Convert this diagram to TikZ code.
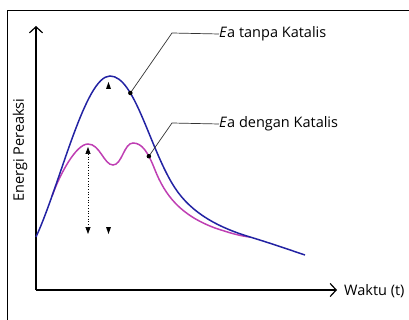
\documentclass[tikz,border=0pt]{standalone}
\usepackage{fontspec}
\setmainfont{Open Sans}
\usetikzlibrary{arrows.meta}
\definecolor{cblue}{HTML}{2323A3}
\definecolor{cpink}{HTML}{BF3FB3}
\tikzset{
  axis/.style={line width=1.3pt,-{Straight Barb[length=6pt,width=13pt,line width=1.2pt]}},
  curveblue/.style={cblue,line width=1.5pt},
  curvepink/.style={cpink,line width=1.5pt},
  leader/.style={line width=0.7pt,black!80},
  lbl/.style={font=\fontsize{14.5}{17}\selectfont,inner sep=0pt},
  dotm/.style={circle,fill=black,inner sep=0pt,minimum size=4.5pt},
  head/.style={fill=black}
}
\begin{document}
\begin{tikzpicture}[x=1pt,y=-1pt]
\useasboundingbox (0,0) rectangle (409,320);
% frame
\draw[line width=1.4pt] (7.5,330) -- (7.5,10.5) -- (420,10.5);
% axes
\coordinate (O) at (36,290);
\coordinate (Ytop) at (36,26);
\coordinate (Xend) at (337,290);
\draw[axis] (O) -- (Ytop);
\draw[axis] (O) -- (Xend);
\node[lbl,anchor=west] (xl) at (344,291) {Waktu (t)};
\node[lbl,rotate=90] (yl) at (20,150) {Energi Pereaksi};
% blue curve path (coordinates)
\path (36,237) .. controls (60,185) and (85,76) .. (110,76) coordinate[pos=0.22] (pb);
% pink curve
\draw[curvepink] (pb) .. controls (60,174) and (76,144) .. (88,144)
  .. controls (100,144) and (104,165) .. (113,165)
  .. controls (122,165) and (124,143) .. (133,143)
  .. controls (142,143) and (148,152) .. (155,170) coordinate[pos=0.7] (dp)
  .. controls (165,195) and (180,215) .. (215,228)
  .. controls (230,233) and (240,236) .. (250,237);
% blue curve
\draw[curveblue] (36,237) .. controls (60,185) and (85,76) .. (110,76)
  .. controls (135,76) and (150,150) .. (175,188) coordinate[pos=0.3] (db)
  .. controls (192,214) and (220,228) .. (250,237)
  .. controls (270,243) and (290,250) .. (305,255);
% leaders
\coordinate (k1) at (172,33);
\coordinate (k2) at (172,123);
\node[lbl,anchor=west] (t1) at (219,34) {\textit{E}a tanpa Katalis};
\node[lbl,anchor=west] (t2) at (219,124) {\textit{E}a dengan Katalis};
\draw[leader] (db) -- (k1) -- (t1.west);
\draw[leader] (dp) -- (k2) -- (t2.west);
\node[dotm] at (db) {};
\node[dotm] at (dp) {};
% energy arrows
\coordinate (a1) at (88,147);
\coordinate (a2) at (88,234);
\draw[dotted,line width=0.7pt,{Triangle[width=5pt,length=7pt]}-{Triangle[width=5pt,length=7pt]}] (a1) -- (a2);
\fill[head] (108.5,82) -- (111,89) -- (106,89) -- cycle;
\fill[head] (108.5,234) -- (111,227) -- (106,227) -- cycle;
\end{tikzpicture}
\end{document}
